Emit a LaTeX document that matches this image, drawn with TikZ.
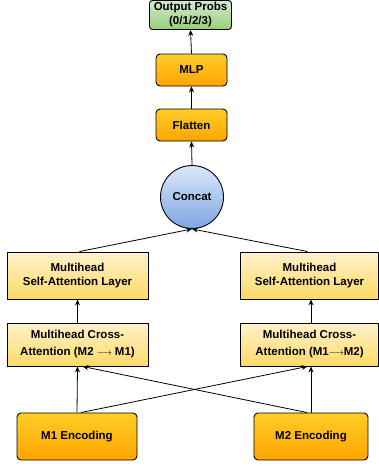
\documentclass[tikz,border=0pt]{standalone}
\usepackage{fontspec}
\setmainfont{Liberation Sans}
\usepackage{tikz}
\usetikzlibrary{arrows.meta}
\definecolor{OrTop}{RGB}{255,205,40}
\definecolor{OrBot}{RGB}{255,165,0}
\definecolor{YeTop}{RGB}{255,242,204}
\definecolor{YeBot}{RGB}{255,217,102}
\definecolor{GrTop}{RGB}{213,232,212}
\definecolor{GrBot}{RGB}{151,208,119}
\definecolor{BlTop}{RGB}{218,232,252}
\definecolor{BlBot}{RGB}{126,166,224}
\newcommand{\longarr}{{\fontsize{9}{9}\selectfont$\longrightarrow$}}
\tikzset{
  box/.style={draw=black, line width=0.9pt, align=center, inner sep=0pt,
    font=\fontsize{11.5}{14}\selectfont\bfseries},
  orangebox/.style={box, rounded corners=4pt, top color=OrTop, bottom color=OrBot},
  yellowbox/.style={box, top color=YeTop, bottom color=YeBot},
  greenbox/.style={box, rounded corners=3pt, top color=GrTop, bottom color=GrBot},
  bluecirc/.style={box, circle, minimum size=63pt, top color=BlTop, bottom color=BlBot},
  conn/.style={-{Stealth[length=6pt,width=5pt]}, line width=0.8pt}
}
\begin{document}
\begin{tikzpicture}[x=1pt, y=-1pt]
\useasboundingbox (0,0) rectangle (379,466);
% top of the stack
\node[greenbox, minimum width=82pt, minimum height=29pt] (out) at (190.5,15) {Output Probs\\(0/1/2/3)};
\node[orangebox, minimum width=71pt, minimum height=32pt] (mlp) at (191.5,70) {MLP};
\node[orangebox, minimum width=71pt, minimum height=32pt] (flat) at (191.5,125) {Flatten};
\node[bluecirc] (concat) at (192,197) {Concat};
% two branches
\node[yellowbox, minimum width=141pt, minimum height=47pt] (selfL) at (77.5,275.5) {Multihead\\Self-Attention Layer};
\node[yellowbox, minimum width=138pt, minimum height=47pt] (selfR) at (309.5,275.5) {Multihead\\Self-Attention Layer};
\node[yellowbox, minimum width=141pt, minimum height=43pt, font=\fontsize{11.5}{17}\selectfont\bfseries] (crossL) at (77.5,344.5) {Multihead Cross-\\Attention (M2 \longarr\ M1)};
\node[yellowbox, minimum width=138pt, minimum height=43pt, font=\fontsize{11.5}{17}\selectfont\bfseries] (crossR) at (309.5,344.5) {Multihead Cross-\\Attention (M1\longarr M2)};
\node[orangebox, minimum width=120pt, minimum height=47pt] (encL) at (77,436.5) {M1 Encoding};
\node[orangebox, minimum width=114pt, minimum height=47pt] (encR) at (311,436.5) {M2 Encoding};
% connectors
\draw[conn] (encL.north) -- (crossL.south);
\draw[conn] ([xshift=4pt]encL.north) -- ([xshift=-2pt]crossR.south);
\draw[conn] (encR.north) -- ([xshift=1.5pt]crossR.south);
\draw[conn] ([xshift=-4pt]encR.north) -- ([xshift=5pt]crossL.south);
\draw[conn] (crossL.north) -- (selfL.south);
\draw[conn] ([xshift=1.5pt]crossR.north) -- ([xshift=1.5pt]selfR.south);
\draw[conn] ([xshift=2pt]selfL.north) -- (concat.south);
\draw[conn] ([xshift=-2pt]selfR.north) -- (concat.south);
\draw[conn] (concat.north) -- (flat.south);
\draw[conn] (flat.north) -- (mlp.south);
\draw[conn] (mlp.north) -- (out.south);
\end{tikzpicture}
\end{document}
